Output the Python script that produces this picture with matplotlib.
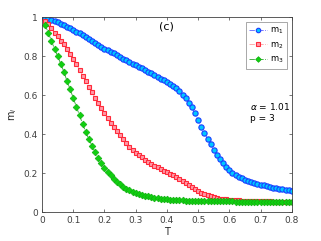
import matplotlib
matplotlib.use("Agg")
import matplotlib.pyplot as plt
import numpy as np

T = np.round(np.arange(1, 81) * 0.01, 2)

m1 = [0.998, 0.993, 0.985, 0.979, 0.974, 0.967, 0.959, 0.950, 0.944, 0.933,
      0.925, 0.916, 0.906, 0.896, 0.886, 0.875, 0.865, 0.855, 0.848, 0.838,
      0.831, 0.822, 0.814, 0.805, 0.797, 0.786, 0.779, 0.769, 0.762, 0.754,
      0.745, 0.737, 0.728, 0.721, 0.711, 0.703, 0.694, 0.684, 0.677, 0.668,
      0.658, 0.647, 0.635, 0.620, 0.603, 0.584, 0.562, 0.537, 0.508, 0.470,
      0.435, 0.405, 0.376, 0.347, 0.320, 0.294, 0.272, 0.252, 0.233, 0.217,
      0.203, 0.191, 0.181, 0.173, 0.166, 0.160, 0.154, 0.149, 0.145, 0.141,
      0.137, 0.133, 0.129, 0.126, 0.123, 0.120, 0.117, 0.114, 0.111, 0.108]

m2 = [0.981, 0.964, 0.942, 0.921, 0.903, 0.878, 0.860, 0.834, 0.812, 0.785,
      0.759, 0.730, 0.700, 0.672, 0.643, 0.615, 0.586, 0.558, 0.532, 0.506,
      0.480, 0.458, 0.437, 0.415, 0.395, 0.373, 0.354, 0.336, 0.319, 0.303,
      0.292, 0.281, 0.269, 0.258, 0.247, 0.238, 0.230, 0.222, 0.213, 0.205,
      0.197, 0.188, 0.180, 0.170, 0.160, 0.150, 0.139, 0.128, 0.118, 0.108,
      0.100, 0.092, 0.086, 0.080, 0.076, 0.072, 0.069, 0.067, 0.065, 0.063,
      0.062, 0.061, 0.060, 0.059, 0.058, 0.058, 0.057, 0.057, 0.056, 0.056,
      0.055, 0.055, 0.055, 0.054, 0.054, 0.054, 0.054, 0.053, 0.053, 0.053]

m3 = [0.959, 0.920, 0.878, 0.837, 0.800, 0.760, 0.720, 0.672, 0.630, 0.585,
      0.540, 0.496, 0.452, 0.410, 0.374, 0.341, 0.306, 0.275, 0.250, 0.224,
      0.205, 0.188, 0.172, 0.155, 0.142, 0.130, 0.120, 0.112, 0.104, 0.098,
      0.093, 0.088, 0.084, 0.080, 0.077, 0.074, 0.071, 0.069, 0.067, 0.065,
      0.064, 0.063, 0.062, 0.061, 0.060, 0.059, 0.059, 0.058, 0.058, 0.057,
      0.057, 0.057, 0.056, 0.056, 0.056, 0.056, 0.055, 0.055, 0.055, 0.055,
      0.055, 0.054, 0.054, 0.054, 0.054, 0.054, 0.054, 0.054, 0.053, 0.053,
      0.053, 0.053, 0.053, 0.053, 0.053, 0.053, 0.053, 0.053, 0.053, 0.053]

labels = ["m$_1$", "m$_2$", "m$_3$"]

def main():
	fig = plt.figure(figsize=(3.21, 2.41), dpi=100)
	ax = fig.add_axes([0.131, 0.12, 0.778, 0.809])

	ax.plot(T, m1, "-.", color="#6060ff", lw=0.6, marker="o", ms=3.8,
		mfc="#00c8ff", mec="#1a3cff", mew=0.8, label=labels[0])
	ax.plot(T, m2, "-.", color="#ffa0a0", lw=0.6, marker="s", ms=3.4,
		mfc="#ff9aa8", mec="#ff2a3a", mew=0.8, label=labels[1])
	ax.plot(T, m3, "-.", color="#30a030", lw=0.6, marker="D", ms=3.4,
		mfc="#10d010", mec="#10b010", mew=0.5, label=labels[2])

	ax.set_xlim(0, 0.8)
	ax.set_ylim(0, 1)
	ax.set_xticks(np.arange(0, 0.81, 0.1))
	ax.set_xticklabels(["0", "0.1", "0.2", "0.3", "0.4", "0.5", "0.6", "0.7", "0.8"])
	ax.set_yticks([0, 0.2, 0.4, 0.6, 0.8, 1])
	ax.set_yticklabels(["0", "0.2", "0.4", "0.6", "0.8", "1"])
	ax.tick_params(direction="in", length=2.5, width=0.5, labelsize=6.5,
		labelcolor="#404040", color="#404040", top=True, right=True, pad=3)
	for s in ax.spines.values():
		s.set_color("#404040")
		s.set_linewidth(0.6)

	ax.set_xlabel("T", fontsize=7, color="#262626", labelpad=1)
	ax.set_ylabel("m$_i$", fontsize=7, color="#262626", labelpad=3)

	ax.text(0.5, 0.975, "(c)", transform=ax.transAxes, fontsize=8, ha="center", va="top")
	ax.text(0.832, 0.544, "$\\alpha$ = 1.01", transform=ax.transAxes, fontsize=6.5, ha="left", va="center")
	ax.text(0.832, 0.48, "p = 3", transform=ax.transAxes, fontsize=6.5, ha="left", va="center")

	leg = ax.legend(loc="upper right", fontsize=6, frameon=True, fancybox=False,
		handlelength=2.2, handletextpad=0.3, borderpad=0.4, labelspacing=0.5,
		borderaxespad=0.6, markerscale=0.85)
	leg.get_frame().set_edgecolor("#808080")
	leg.get_frame().set_linewidth(0.6)

	plt.savefig("out.png", dpi=100)
	plt.close(fig)

if __name__ == "__main__":
	main()
